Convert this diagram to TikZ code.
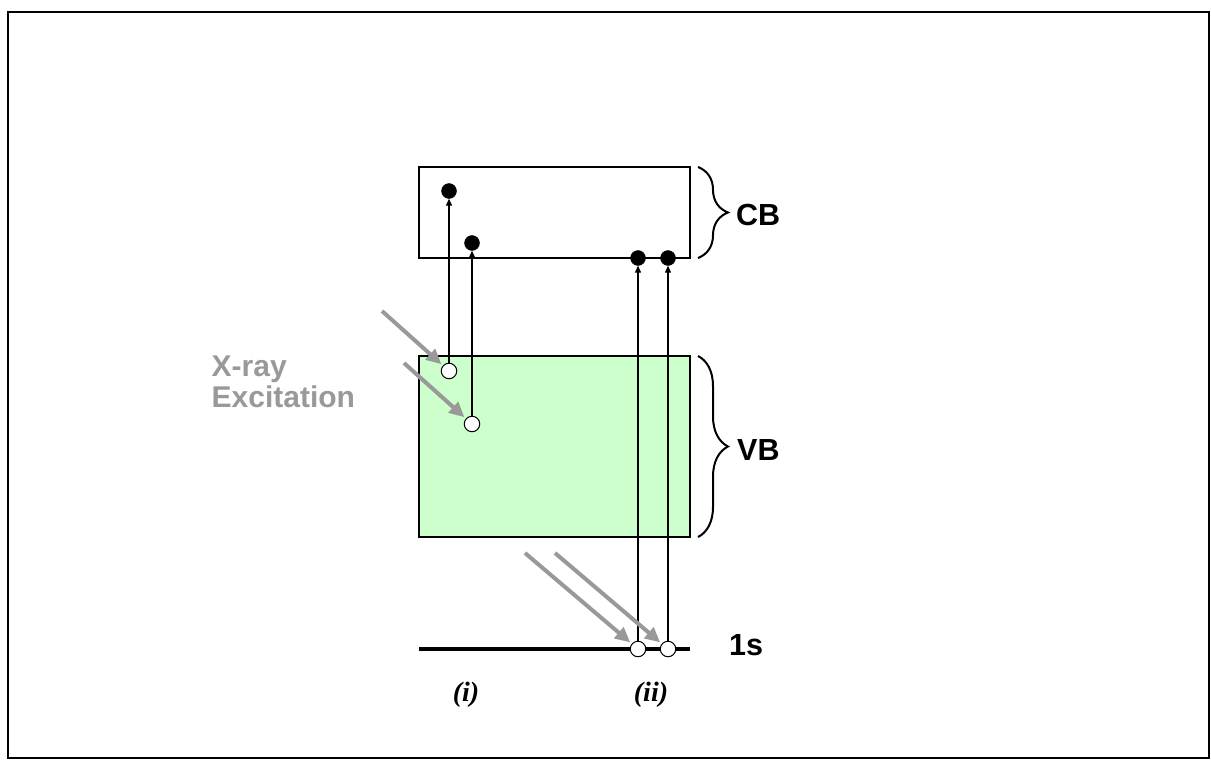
\documentclass[tikz,border=0pt]{standalone}
\usepackage{fontspec}
\setmainfont{Liberation Sans}
\newfontfamily\seriffont{Liberation Serif}
\usetikzlibrary{arrows.meta,decorations.pathreplacing}
\definecolor{vbgreen}{HTML}{CCFFCC}
\definecolor{xgray}{HTML}{999999}
\tikzset{
  band/.style={draw=black,line width=2pt},
  electron/.style={circle,fill=black,draw=black,minimum size=15pt,inner sep=0pt},
  hole/.style={circle,fill=white,draw=black,line width=1pt,minimum size=15.5pt,inner sep=0pt},
  trans/.style={line width=1.3pt,-{Triangle[length=7pt,width=6pt]}},
  xray/.style={draw=xgray,line width=4pt,-{Triangle[length=15pt,width=14pt]},shorten >=2pt},
  bandbrace/.style={decorate,decoration={brace,amplitude=30pt},line width=2pt},
  lab/.style={font=\fontsize{30.5pt}{33pt}\selectfont\bfseries,anchor=base west,inner sep=0pt},
  roman/.style={font=\fontsize{28pt}{30pt}\seriffont\bfseries\itshape,anchor=base,inner sep=0pt}
}
\begin{document}
\begin{tikzpicture}[x=1pt,y=-1pt]
\useasboundingbox (0,0) rectangle (1211,760);
\draw[line width=2pt] (8,12) rectangle (1209,758);
% bands
\draw[band] (419,167) rectangle (690,258);
\draw[band,fill=vbgreen] (419,356) rectangle (690,537);
\draw[line width=4pt] (419,649) -- (690,649);
% braces
\draw[bandbrace] (698,167) -- (698,258);
\draw[bandbrace] (698,356) -- (698,537);
\node[lab] (cb) at (736,225) {CB};
\node[lab] (vb) at (737,460) {VB};
\node[lab] (s1) at (729,655) {1s};
% electrons
\node[electron] (e1) at (449,191) {};
\node[electron] (e2) at (472,243) {};
\node[electron] (e3) at (638,258) {};
\node[electron] (e4) at (668,258) {};
% holes
\node[hole] (h1) at (449,371) {};
\node[hole] (h2) at (472,424) {};
\node[hole] (h3) at (638,649) {};
\node[hole] (h4) at (668,649) {};
% transitions
\draw[trans] (h1) -- (e1);
\draw[trans] (h2) -- (e2);
\draw[trans] (h3) -- (e3);
\draw[trans] (h4) -- (e4);
% x-ray arrows
\coordinate (x1) at (382,311);
\coordinate (x2) at (404,363);
\coordinate (x3) at (525,553);
\coordinate (x4) at (555,553);
\draw[xray] (x1) -- (h1);
\draw[xray] (x2) -- (h2);
\draw[xray] (x3) -- (h3);
\draw[xray] (x4) -- (h4);
\node[font=\fontsize{30pt}{31pt}\selectfont\bfseries,text=xgray,align=left,anchor=north west,inner sep=0pt] (xr) at (211.5,356) {X-ray\\Excitation};
% case labels
\node[roman] (ci) at (466,701) {(i)};
\node[roman] (cii) at (651,701) {(ii)};
\end{tikzpicture}
\end{document}
